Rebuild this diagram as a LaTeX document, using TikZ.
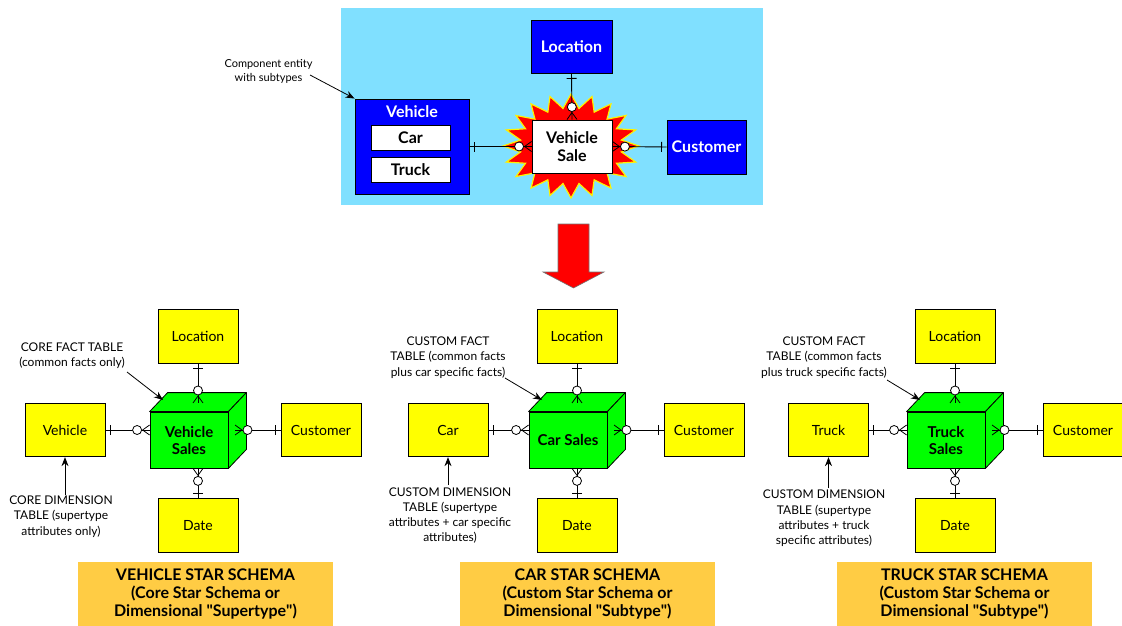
\documentclass[tikz,border=0pt]{standalone}
\usepackage{fontspec}
\setmainfont{Lato}
\usetikzlibrary{arrows.meta,decorations.markings,calc}
\definecolor{skyb}{HTML}{80E0FF}
\definecolor{entblue}{HTML}{0000FF}
\definecolor{dimyel}{HTML}{FFFF00}
\definecolor{factgreen}{HTML}{00FF00}
\definecolor{schemagold}{HTML}{FFCC44}
\tikzset{
  erlink/.style={line width=0.9pt, postaction={decorate}, decoration={markings,
    mark=at position 5pt with {\draw[line width=0.9pt] (0,-5pt) -- (0,5pt);},
    mark=at position -7pt with {\draw[line width=0.8pt] (0,0) -- (7pt,5pt) (0,0) -- (7pt,-5pt);},
    mark=at position -12.5pt with {\draw[line width=0.8pt,fill=white] (0,0) circle (4.5pt);}}},
  dimbox/.style={draw=black, fill=dimyel, line width=0.8pt, minimum width=80pt, minimum height=53.5pt, inner sep=0pt, font=\fontsize{14}{16}\selectfont},
  factbox/.style={draw=black, fill=factgreen, line width=0.8pt, minimum width=78pt, minimum height=56pt, inner sep=0pt, align=center, font=\bfseries\fontsize{15}{17}\selectfont},
  cubeface/.style={draw=black, fill=factgreen, line width=0.8pt, line join=round},
  entbox/.style={draw=black, fill=entblue, line width=0.9pt, inner sep=0pt, text=white, align=center, font=\bfseries\fontsize{16}{18}\selectfont},
  subbox/.style={draw=black, fill=white, line width=0.9pt, minimum width=79pt, minimum height=25pt, inner sep=0pt, font=\bfseries\fontsize{16}{18}\selectfont},
  ann/.style={inner sep=0pt, align=center, font=\fontsize{12}{15.3}\selectfont},
  annarrow/.style={line width=0.8pt, -{Stealth[length=9pt,width=7pt]}},
  schemabox/.style={fill=schemagold, minimum width=255pt, minimum height=64pt, inner sep=0pt, align=center, font=\bfseries\fontsize{16}{18}\selectfont},
}
\newcommand{\starschema}[6]{%
\begin{scope}[xshift=#2]
\node[dimbox] (#1loc) at (198,336.5) {Location};
\node[dimbox] (#1dim) at (#3,430) {#4};
\node[dimbox] (#1cust) at (#6,430) {Customer};
\node[dimbox] (#1date) at (198,525.5) {Date};
\node[factbox] (#1fact) at (189,440) {#5};
\draw[cubeface] (#1fact.north west) -- ++(18,-19) -- ($(#1fact.north east)+(18,-19)$) -- (#1fact.north east) -- cycle;
\draw[cubeface] (#1fact.north east) -- ++(18,-19) -- ($(#1fact.south east)+(18,-19)$) -- (#1fact.south east) -- cycle;
\coordinate (#1top) at (198,403);
\coordinate (#1rend) at (235,430);
\draw[erlink] (#1loc.south) -- (#1top);
\draw[erlink] (#1dim.east) -- (#1dim.east -| #1fact.west);
\draw[erlink] (#1cust.west) -- (#1rend);
\draw[erlink] (#1date.north) -- (#1date.north |- #1fact.south);
\end{scope}}
\newcommand{\dq}{\textquotedbl}
\begin{document}
\begin{tikzpicture}[x=1pt,y=-1pt]
\useasboundingbox (0,0) rectangle (1122,626);
\fill[white] (0,0) rectangle (1122,626);
% ---------- top panel ----------
\fill[skyb] (341,8) rectangle (763,205);
\draw[fill=red, draw=yellow, line width=1.2pt, line join=miter]
  plot[samples at={0,9,...,351}, variable=\t]
  ({571+((mod(\t,18)==0)?68:51)*cos(\t)}, {146+((mod(\t,18)==0)?52:38)*sin(\t)}) -- cycle;
\node[entbox, minimum width=81pt, minimum height=53pt] (tloc) at (571.5,46.5) {Location};
\node[entbox, minimum width=79pt, minimum height=54pt] (tcust) at (706.5,147) {Customer};
\node[entbox, minimum width=114pt, minimum height=95pt] (tveh) at (412,146.5) {};
\node[inner sep=0pt, text=white, font=\bfseries\fontsize{16}{18}\selectfont] (tvehlbl) at (412,112) {Vehicle};
\node[subbox] (tcar) at (410.5,137.5) {Car};
\node[subbox] (ttruck) at (410.5,169.5) {Truck};
\node[draw=black, fill=white, line width=0.9pt, minimum width=80pt, minimum height=53pt, inner sep=0pt, align=center, font=\bfseries\fontsize{16}{18}\selectfont] (tvs) at (572,146.5) {Vehicle\\Sale};
\draw[erlink] (tloc.south) -- (tvs.north);
\draw[erlink] (tveh.east) -- (tvs.west);
\draw[erlink] (tcust.west) -- (tvs.east);
\node[inner sep=0pt, align=center, font=\fontsize{11}{14.5}\selectfont] (compann) at (268.5,71.5) {Component entity\\with subtypes};
\coordinate (compfrom) at (310,75);
\draw[annarrow] (compfrom) -- (tveh.north west);
% ---------- red arrow ----------
\draw[fill=red, draw=black!55, line width=0.6pt, line join=miter]
  (558,224) -- (589,224) -- (589,272) -- (604,272) -- (573.5,288) -- (543,272) -- (558,272) -- cycle;
% ---------- star schemas ----------
\starschema{a}{0pt}{65}{Vehicle}{Vehicle\\Sales}{321}
\starschema{b}{379pt}{69}{Car}{Car Sales}{325}
\starschema{c}{757pt}{71.5}{Truck}{Truck\\Sales}{326}
% annotations
\node[ann] (afactann) at (72,355.5) {CORE FACT TABLE\\(common facts only)};
\coordinate (afrom) at (127,372);
\coordinate (ato) at (163,400);
\draw[annarrow] (afrom) -- (ato);
\node[ann] (adimann) at (61,516.5) {CORE DIMENSION\\TABLE (supertype\\attributes only)};
\coordinate (adfrom) at (65,495);
\draw[annarrow] (adfrom) -- (adim.south);
\node[ann] (bfactann) at (448,357.5) {CUSTOM FACT\\TABLE (common facts\\plus car specific facts)};
\coordinate (bfrom) at (505,378);
\coordinate (bto) at (542,400);
\draw[annarrow] (bfrom) -- (bto);
\node[ann] (bdimann) at (450,515.5) {CUSTOM DIMENSION\\TABLE (supertype\\attributes + car specific\\attributes)};
\coordinate (bdfrom) at (448,485);
\draw[annarrow] (bdfrom) -- (bdim.south);
\node[ann] (cfactann) at (824,357.5) {CUSTOM FACT\\TABLE (common facts\\plus truck specific facts)};
\coordinate (cfrom) at (887,380);
\coordinate (cto) at (920,400);
\draw[annarrow] (cfrom) -- (cto);
\node[ann] (cdimann) at (824,518.5) {CUSTOM DIMENSION\\TABLE (supertype\\attributes + truck\\specific attributes)};
\coordinate (cdfrom) at (828.5,488);
\draw[annarrow] (cdfrom) -- (cdim.south);
% bottom labels
\node[schemabox] (asch) at (205.5,594) {VEHICLE STAR SCHEMA\\(Core Star Schema or\\Dimensional \dq Supertype\dq)};
\node[schemabox] (bsch) at (587.5,594) {CAR STAR SCHEMA\\(Custom Star Schema or\\Dimensional \dq Subtype\dq)};
\node[schemabox] (csch) at (964.5,594) {TRUCK STAR SCHEMA\\(Custom Star Schema or\\Dimensional \dq Subtype\dq)};
\end{tikzpicture}
\end{document}
